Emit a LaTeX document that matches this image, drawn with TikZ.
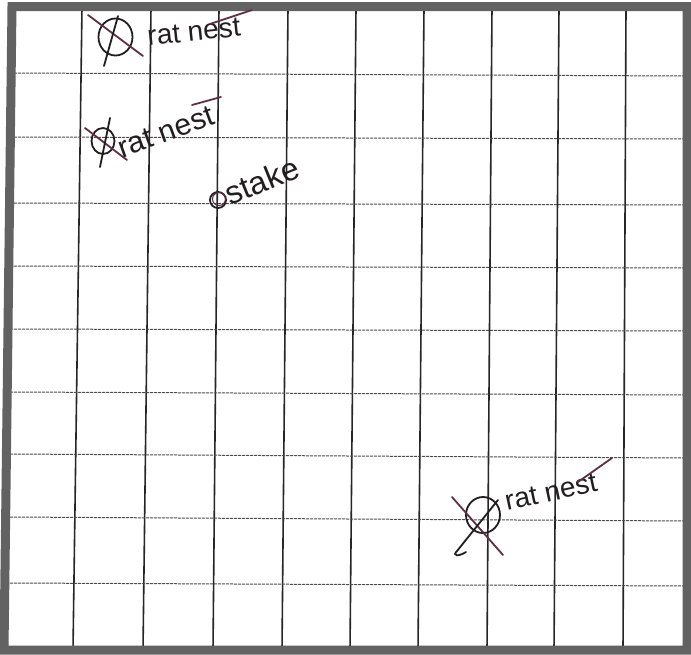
\documentclass[tikz,border=0pt]{standalone}
\usepackage{fontspec}
\setmainfont{Liberation Sans}
\definecolor{pen}{HTML}{221E20}
\definecolor{mauve}{HTML}{5E3045}
\definecolor{frame}{HTML}{626262}
\tikzset{
  vline/.style={draw=black!85, line width=1.6pt},
  hline/.style={draw=black!70, line width=1pt, dash pattern=on 3pt off 1pt},
  border/.style={draw=frame, line width=9pt, line join=miter},
  penline/.style={draw=pen, line width=1.8pt, line cap=round},
  mauveline/.style={draw=mauve, line width=1.8pt, line cap=round},
  hand/.style={text=pen, inner sep=0pt, font=\fontsize{28}{28}\selectfont}
}
\begin{document}
\begin{tikzpicture}[x=1pt,y=-1pt]
\useasboundingbox (0,0) rectangle (691,654);
\fill[white] (0,0) rectangle (691,654);
% vertical grid lines (top x / bottom x)
\foreach \a/\b in {82/73,151/143,219/213,288/282,356/350,424/418,492/487,559/554,626/623}
  \draw[vline] (\a,8) -- (\b,650);
% horizontal grid lines (left y / right y)
\foreach \a/\b in {73/76,137/139,203/205,266/268,329/331,392/395,454/458,517/521,583/586}
  \draw[hline] (10,\a) -- (686,\b);
% frame
\draw[border] (12,6.5) -- (687,6.5) -- (687,650) -- (4,650) -- cycle;

% annotation 1
\draw[penline] (115.5,37) ellipse (17 and 18.5);
\draw[mauveline] (88,15) -- (143,56);
\draw[penline] (118,16) -- (104,66);
\node[hand, rotate=6] (t1) at (194,32) {rat nest};
\draw[mauveline] (210,24) -- (252,10);

% annotation 2
\draw[penline] (103,141) ellipse (11.5 and 13);
\draw[mauveline] (85,128) -- (127,160);
\draw[penline] (110,118) -- (100,167);
\node[hand, rotate=20, font=\fontsize{30}{30}\selectfont] (t2) at (166,132) {rat nest};
\draw[mauveline] (192,105) -- (221,97);

% annotation 3
\draw[penline] (218,200) circle (8);
\draw[draw=mauve, line width=1pt] (219,199) circle (6.5);
\node[hand, rotate=22, font=\fontsize{32}{32}\selectfont] (t3) at (262,181) {stake};

% annotation 4
\draw[penline] (483,515) ellipse (17 and 18);
\draw[mauveline] (452,497) -- (503,555);
\draw[penline] (498,500) -- (457,551) .. controls (452,556) and (458,557) .. (466,552);
\node[hand, rotate=12] (t4) at (551,492) {rat nest};
\draw[mauveline] (578,482) -- (612,458);
\end{tikzpicture}
\end{document}
